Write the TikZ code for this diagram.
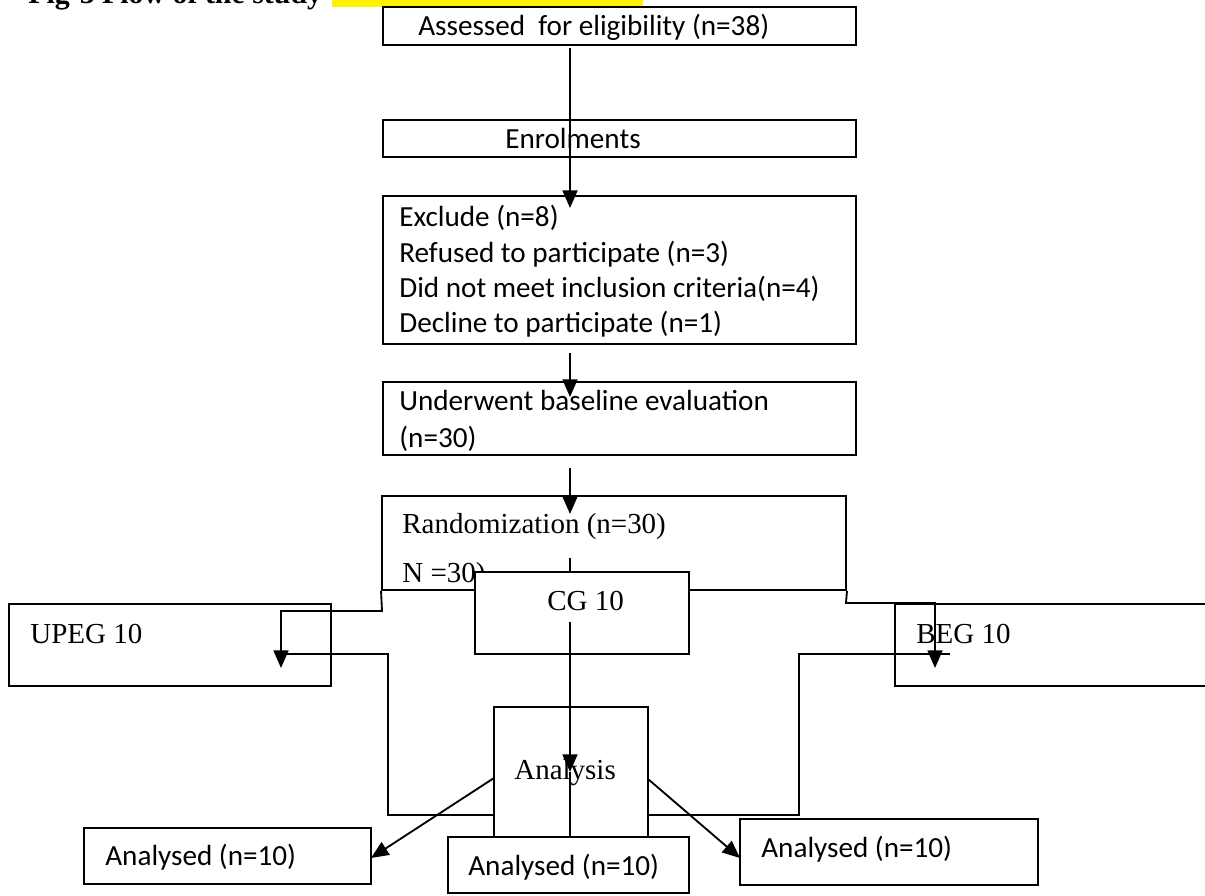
\documentclass[tikz,border=0pt]{standalone}
\usepackage{fontspec}
\setmainfont{Liberation Serif}
\newfontfamily\calfont{Carlito}
\usetikzlibrary{arrows.meta,fit}
\begin{document}
\begin{tikzpicture}[x=0.02cm,y=-0.02cm,
  box/.style={draw, line width=1.1pt, inner sep=0pt},
  wbox/.style={box, fill=white},
  ctext/.style={font=\calfont\fontsize{16.6}{20}\selectfont, anchor=base west, inner sep=0pt},
  ttext/.style={font=\fontsize{16.5}{20}\selectfont, anchor=base west, inner sep=0pt},
  conn/.style={line width=1.05pt},
  arr/.style={conn, -{Triangle[length=10pt,width=8.5pt]}}]
\clip (0,0) rectangle (1205,896);
% title
\node[fill=yellow, inner sep=0pt, fit={(332,-20) (643,7)}] (hl) {};
\node[font=\bfseries\fontsize{17}{20}\selectfont, anchor=base west, inner sep=0pt] (title) at (28,3) {Fig-3 Flow of the study};
% boxes
\node[box, fit={(383,7) (856,45)}] (b1) {};
\node[ctext] (t1) at (418,35) {Assessed~ for eligibility (n=38)};
\node[box, fit={(383,120) (856,157)}] (b2) {};
\node[ctext] (t2) at (505,148) {Enrolments};
\node[box, fit={(383,196) (856,344)}] (b3) {};
\node[ctext] (t3a) at (399,226) {Exclude (n=8)};
\node[ctext] (t3b) at (399,262) {Refused to participate (n=3)};
\node[ctext] (t3c) at (399,297) {Did not meet inclusion criteria(n=4)};
\node[ctext] (t3d) at (399,332) {Decline to participate (n=1)};
\node[box, fit={(383,382) (856,455)}] (b4) {};
\node[ctext] (t4a) at (399,410) {Underwent baseline evaluation};
\node[ctext] (t4b) at (399,447) {(n=30)};
\node[box, fit={(382,496) (846,590)}] (b5) {};
\node[ttext] (t5a) at (402,533) {Randomization (n=30)};
\node[ttext] (t5b) at (402,582) {N =30)};
\node[box, fit={(9,604) (331,686)}] (upeg) {};
\node[ttext] (tu) at (30,643) {UPEG 10};
\node[box, fit={(895,604) (1240,686)}] (beg) {};
\node[ttext] (tb) at (916,643) {BEG 10};
\node[box, fit={(494,707) (648,860)}] (an) {};
\node[ttext] (ta) at (514,779) {Analysis};
\node[box, fit={(84,828) (371,884)}] (al) {};
\node[ctext] (tal) at (105,865) {Analysed (n=10)};
\node[box, fit={(740,819) (1038,885)}] (ar) {};
\node[ctext] (tar) at (761,857) {Analysed (n=10)};
\node[wbox, fit={(475,572) (689,654)}] (cg) {};
\node[ttext] (tcg) at (547,610) {CG 10};
\node[wbox, fit={(448,837) (689,893)}] (am) {};
\node[ctext] (tam) at (468,875) {Analysed (n=10)};
% connector points
\coordinate (p1) at (570,48);
\coordinate (q1) at (570,208);
\coordinate (p2) at (570,353);
\coordinate (q2) at (570,397);
\coordinate (p3) at (570,468);
\coordinate (q3) at (570,514);
\coordinate (p4) at (570,558);
\coordinate (ul) at (281,668);
\coordinate (br) at (935,668);
\coordinate (p7) at (570,622);
\coordinate (q7) at (570,772);
\coordinate (us) at (281,654);
\coordinate (bs) at (950,654);
\coordinate (anl) at (494,778);
\coordinate (anr) at (648,779);
\coordinate (alt) at (371,858);
\coordinate (art) at (740,858);
% connectors
\draw[arr] (p1) -- (q1);
\draw[arr] (p2) -- (q2);
\draw[arr] (p3) -- (q3);
\draw[conn] (p4) -- (p4 |- cg.north);
\draw[arr] (b5.south west) -- (382,611) -| (ul);
\draw[arr] (b5.south east) -- (846,603) -| (br);
\draw[arr] (p7) -- (q7);
\draw[conn] (q7) -- (q7 |- am.north);
\draw[conn] (us) -- (388,654) |- (an.west |- 0,815);
\draw[conn] (bs) -- (799,654) |- (an.east |- 0,815);
\draw[arr] (anl) -- (alt);
\draw[arr] (anr) -- (art);
\end{tikzpicture}
\end{document}
